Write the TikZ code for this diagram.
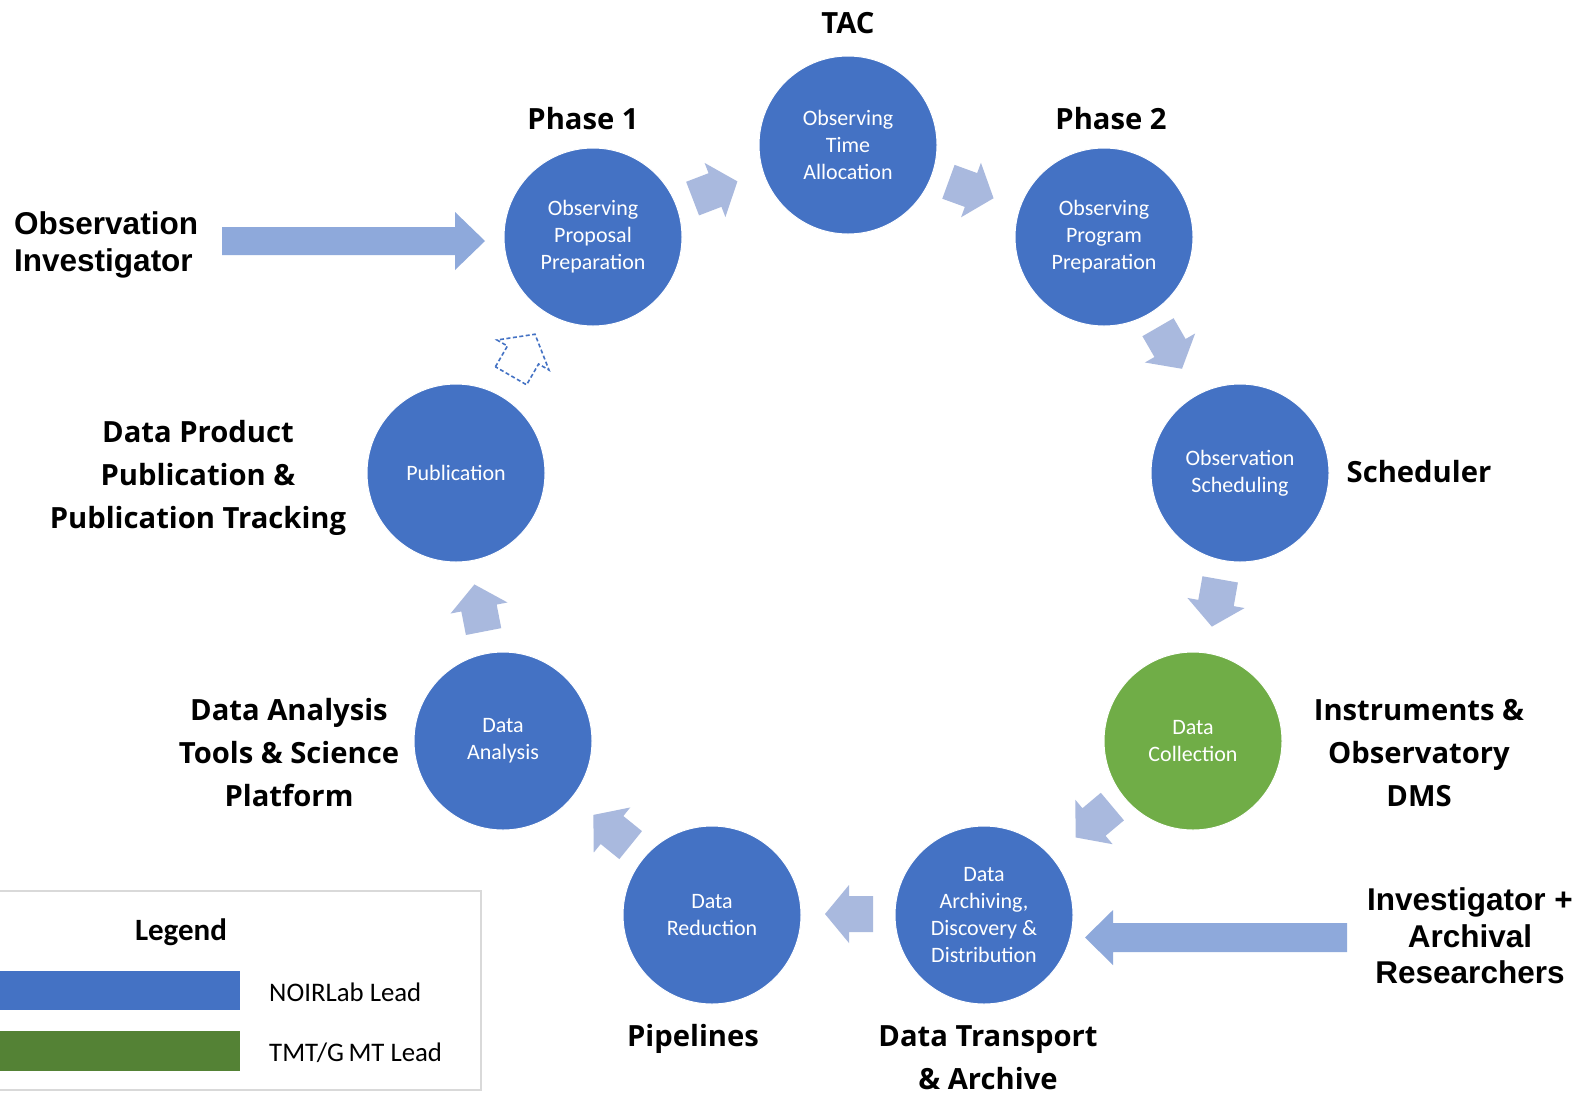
\documentclass[tikz,border=0pt]{standalone}
\usepackage{fontspec}
\setmainfont{Carlito}
\newfontfamily\labfont{Open Sans}
\newfontfamily\arialfont{Liberation Sans}
\definecolor{noirblue}{HTML}{4472C4}
\definecolor{tmtgreen}{HTML}{70AD47}
\definecolor{leggreen}{HTML}{548235}
\definecolor{bigarrow}{HTML}{8EA9DB}
\definecolor{smallarrow}{HTML}{A9B9DE}
\definecolor{legborder}{HTML}{D9D9D9}
\tikzset{
  stage/.style={circle, minimum size=178bp, inner sep=0pt, fill=noirblue, draw=white, line width=1bp,
    text=white, align=center, font=\fontsize{22bp}{27bp}\selectfont},
  biglabel/.style={align=center, inner sep=0pt, font=\labfont\bfseries\fontsize{29.2bp}{43bp}\selectfont},
  ariallabel/.style={inner sep=0pt, font=\arialfont\bfseries\fontsize{31.5bp}{36.5bp}\selectfont},
  smallarr/.pic={\fill[smallarrow] (-24,-18) -- (0,-18) -- (0,-29) -- (24,0) -- (0,29) -- (0,18) -- (-24,18) -- cycle;},
  dasharr/.pic={\filldraw[fill=white, draw=noirblue, dashed, dash pattern=on 4bp off 2.5bp, line width=1.6bp]
     (-24,-18) -- (0,-18) -- (0,-30) -- (24,0) -- (0,30) -- (0,18) -- (-24,18) -- cycle;}
}
\begin{document}
\begin{tikzpicture}[x=1bp, y=-1bp]
\useasboundingbox (0,0) rectangle (1582,1095);
\fill[white] (0,0) rectangle (1582,1095);

% stages
\node[stage] (opp) at (593,237) {Observing\\Proposal\\Preparation};
\node[stage] (ota) at (848,145) {Observing\\Time\\Allocation};
\node[stage] (oprp) at (1104,237) {Observing\\Program\\Preparation};
\node[stage] (osch) at (1240,473) {Observation\\Scheduling};
\node[stage, fill=tmtgreen] (dcol) at (1193,741) {Data\\Collection};
\node[stage] (darch) at (984,915) {Data\\Archiving,\\Discovery \&\\Distribution};
\node[stage] (dred) at (712,915) {Data\\Reduction};
\node[stage] (dana) at (503,741) {Data\\Analysis};
\node[stage] (pub) at (456,473) {Publication};

% small flow arrows
\pic (a1) at (715,190) [rotate=21] {smallarr};
\pic (a2) at (971,190) [rotate=-20] {smallarr};
\pic (a3) at (1170,348) [rotate=-60] {smallarr};
\pic (a4) at (1216,603) [rotate=-100] {smallarr};
\pic (a5) at (1094,822) [rotate=-140] {smallarr};
\pic (a6) at (849,914) [rotate=180] {smallarr};
\pic (a7) at (612,830) [rotate=141] {smallarr};
\pic (a8) at (479,608) [rotate=101] {smallarr};
\pic (a9) at (523,355) [rotate=60] {dasharr};

% labels
\node[biglabel] (tac) at (848,23) {TAC};
\node[biglabel] (ph1) at (583,119) {Phase 1};
\node[biglabel] (ph2) at (1111,119) {Phase 2};
\node[biglabel] (sched) at (1419,472) {Scheduler};
\node[biglabel] (instr) at (1419,753) {Instruments \&\\Observatory\\DMS};
\node[biglabel] (dpp) at (198,478) {Data Product\\Publication \&\\Publication Tracking};
\node[biglabel] (dat) at (289,753) {Data Analysis\\Tools \& Science\\Platform};
\node[biglabel] (pipe) at (693,1039) {Pipelines};
\node[biglabel] (dta) at (988,1058) {Data Transport\\\& Archive};

\node[ariallabel, align=left, anchor=west] (oi) at (14,245) {Observation\\Investigator};
\node[ariallabel, align=center] (iar) at (1470,936) {Investigator +\\Archival\\Researchers};

% big input arrows
\coordinate (inL) at (222,241);
\coordinate (inR) at (1347,937.5);
\fill[bigarrow] (inL) ++(0,-14) -- ++(233,0) -- ++(0,-15) -- (485,241) -- (455,270) -- (455,255) -- (222,255) -- cycle;
\fill[bigarrow] (inR) ++(0,-14.5) -- (1113,923) -- (1113,910) -- (1085,937.5) -- (1113,965) -- (1113,952) -- (1347,952) -- cycle;

% legend
\draw[legborder, line width=2bp] (-2,891) rectangle (481,1090);
\node[inner sep=0pt, font=\bfseries\fontsize{31bp}{36bp}\selectfont] (legt) at (181,932) {Legend};
\fill[noirblue] (-2,971) rectangle (240,1010);
\fill[leggreen] (-2,1031) rectangle (240,1071);
\node[inner sep=0pt, anchor=west, font=\fontsize{26.8bp}{30bp}\selectfont] (l1) at (269,992) {NOIRLab Lead};
\node[inner sep=0pt, anchor=west, font=\fontsize{26.8bp}{30bp}\selectfont] (l2) at (269,1053) {TMT/G\,MT Lead};
\end{tikzpicture}
\end{document}
